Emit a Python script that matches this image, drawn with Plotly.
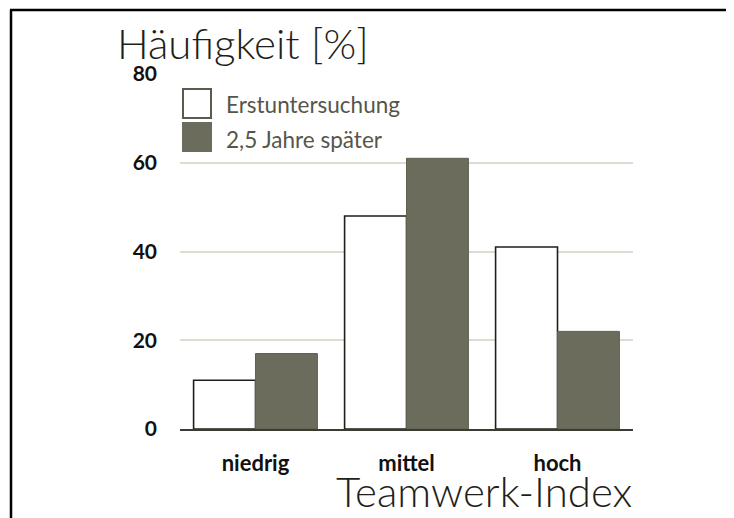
import plotly.graph_objects as go

categories = ["niedrig", "mittel", "hoch"]
series_names = ["Erstuntersuchung", "2,5 Jahre später"]
erst_values = [11, 48, 41]
spaeter_values = [17, 61, 22]
y_ticks = [0, 20, 40, 60, 80]

# the page body adds an 8px offset, so the figure is drawn 8px smaller
OFF = 8
W, H = 734 - OFF, 518 - OFF
L, R, T, B = 180 - OFF, 101, 74 - OFF, 89
GRAY = "#6b6c5c"
DARK = "#1e1e1a"
FONT = "Lato"

fig = go.Figure()
fig.add_trace(go.Bar(x=categories, y=erst_values, name=series_names[0],
                     marker=dict(color="white", line=dict(color=DARK, width=1.6))))
fig.add_trace(go.Bar(x=categories, y=spaeter_values, name=series_names[1],
                     marker=dict(color=GRAY, line=dict(color="#5f604f", width=1))))

def px_x(x):
    return (x - OFF - L) / (W - L - R)

def px_y(y):
    return (H - B - (y - OFF)) / (H - T - B)

shapes = [
    dict(type="line", xref="paper", yref="paper", x0=px_x(10), x1=px_x(742), y0=px_y(10), y1=px_y(10),
         line=dict(color="black", width=2.5)),
    dict(type="line", xref="paper", yref="paper", x0=px_x(11), x1=px_x(11), y0=px_y(10), y1=px_y(530),
         line=dict(color="black", width=2.5)),
    dict(type="rect", xref="paper", yref="paper", x0=px_x(183), x1=px_x(211), y0=px_y(89), y1=px_y(118),
         fillcolor="white", line=dict(color="#5a5b4c", width=2)),
    dict(type="rect", xref="paper", yref="paper", x0=px_x(182), x1=px_x(212), y0=px_y(122), y1=px_y(152),
         fillcolor=GRAY, line=dict(color=GRAY, width=0)),
]

annotations = [
    dict(text=series_names[0], xref="paper", yref="paper", x=px_x(224), y=px_y(104),
         xanchor="left", yanchor="middle", showarrow=False,
         font=dict(family=FONT, size=22.5, color="#55564a")),
    dict(text=series_names[1], xref="paper", yref="paper", x=px_x(224), y=px_y(139),
         xanchor="left", yanchor="middle", showarrow=False,
         font=dict(family=FONT, size=22.5, color="#55564a")),
    dict(text="Häufigkeit [%]", xref="paper", yref="paper", x=px_x(115), y=px_y(43),
         xanchor="left", yanchor="middle", showarrow=False,
         font=dict(family=FONT + " Light, " + FONT, size=42, color=DARK)),
    dict(text="Teamwerk-Index", xref="paper", yref="paper", x=px_x(634), y=px_y(491),
         xanchor="right", yanchor="middle", showarrow=False,
         font=dict(family=FONT + " Light, " + FONT, size=42, color=DARK)),
]

fig.update_layout(
    width=W, height=H,
    margin=dict(l=L, r=R, t=T, b=B, pad=0),
    paper_bgcolor="white", plot_bgcolor="white",
    barmode="group", bargap=0.18, bargroupgap=0,
    showlegend=False,
    shapes=shapes, annotations=annotations,
    xaxis=dict(showgrid=False, showline=True, linecolor="#3a3b32", linewidth=2,
               ticks="", ticklabelstandoff=14,
               tickfont=dict(family=FONT, size=22, color="#111", weight="bold")),
    yaxis=dict(range=[0, 80], tickvals=y_ticks, showgrid=True, gridcolor="#dcdcd0", gridwidth=1.5,
               zeroline=False, showline=False, ticks="", ticklabelstandoff=22,
               tickfont=dict(family=FONT, size=21, color="#111", weight="bold")),
)

fig.write_html("out.html")
